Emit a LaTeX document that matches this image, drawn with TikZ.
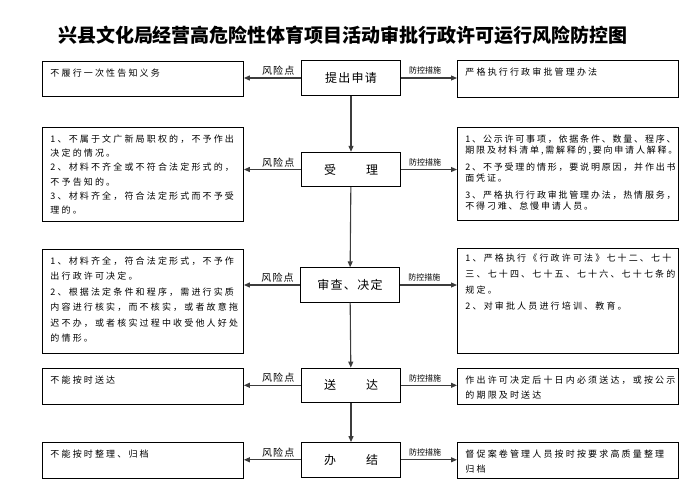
\documentclass[tikz,border=0pt]{standalone}
\usepackage{fontspec}
\usepackage{tikz}
\usetikzlibrary{arrows.meta,positioning}
\newfontfamily\cjk{Noto Sans CJK SC}
\newfontfamily\cjksp[LetterSpace=24]{Noto Sans CJK SC}
\newfontfamily\cjkms[LetterSpace=20]{Noto Sans CJK SC}
\newfontfamily\cjkmid[LetterSpace=11]{Noto Sans CJK SC}
\definecolor{linegris}{RGB}{60,60,60}
\tikzset{
  stepbox/.style={
    rectangle, draw=black, line width=0.9pt, fill=white,
    minimum width=99pt, minimum height=34.5pt, inner sep=0pt,
    font=\cjkmid\fontsize{12}{14}\selectfont
  },
  riskbox/.style={
    rectangle, draw=black, line width=0.9pt, anchor=north west,
    text width=185pt, align=left, inner xsep=8pt, inner ysep=0pt,
    text height=15pt, font=\cjksp\fontsize{9}{15.5}\selectfont
  },
  ctrlbox/.style={riskbox, text width=205pt},
  flowarr/.style={-{Triangle[length=6pt,width=5pt]}, line width=1.1pt, linegris},
  risklbl/.style={above=1pt, pos=0.4, inner sep=1pt,
    font=\cjkmid\fontsize{10}{12}\selectfont, text=black},
  ctrllbl/.style={above=2pt, pos=0.43, inner sep=1pt,
    font=\cjk\fontsize{8}{9}\selectfont, text=black}
}
\begin{document}
\begin{tikzpicture}[x=1pt, y=-1pt]
  \useasboundingbox (0,0) rectangle (694,490);

  \node[font=\cjk\bfseries\fontsize{19}{22}\selectfont] (title) at (343,35)
    {兴县文化局经营高危险性体育项目活动审批行政许可运行风险防控图};

  % Steps
  \node[stepbox] (apply)  at (351,78)    {提出申请};
  \node[stepbox] (accept) at (351,169.5) {受\hspace{30pt}理};
  \node[stepbox] (review) at (350,285)   {审查、决定};
  \node[stepbox] (send)   at (351,385.3) {送\hspace{30pt}达};
  \node[stepbox] (close)  at (351,459.8) {办\hspace{30pt}结};

  % Risk points
  \node[riskbox, text depth=20pt] (rk1) at (42,61) {不履行一次性告知义务};
  \node[riskbox, text depth=79pt, font=\cjksp\fontsize{9}{14.2}\selectfont] (rk2) at (42,127)
    {1、不属于文广新局职权的，不予作出\\决定的情况。\\2、材料不齐全或不符合法定形式的，\\不予告知的。\\3、材料齐全，符合法定形式而不予受\\理的。};
  \node[riskbox, text depth=89pt] (rk3) at (42,249)
    {1、材料齐全，符合法定形式，不予作\\出行政许可决定。\\2、根据法定条件和程序，需进行实质\\内容进行核实，而不核实，或者故意拖\\迟不办，或者核实过程中收受他人好处\\的情形。};
  \node[riskbox, text depth=20.5pt] (rk4) at (42,368) {不能按时送达};
  \node[riskbox, text depth=20.5pt] (rk5) at (42,442) {不能按时整理、归档};

  % Control measures
  \node[ctrlbox, text depth=22pt] (ms1) at (457,60) {严格执行行政审批管理办法};
  \node[ctrlbox, text depth=78pt, font=\cjkms\fontsize{9}{11}\selectfont] (ms2) at (457,127)
    {1、公示许可事项，依据条件、数量、程序、\\期限及材料清单,需解释的,要向申请人解释。\\[6pt]2、不予受理的情形，要说明原因，并作出书\\面凭证。\\[6pt]3、严格执行行政审批管理办法，热情服务，\\不得刁难、怠慢申请人员。};
  \node[ctrlbox, text depth=92pt, text height=13pt, font=\cjksp\fontsize{9}{16}\selectfont] (ms3) at (457,248)
    {1、严格执行《行政许可法》七十二、七十\\三、七十四、七十五、七十六、七十七条的\\规定。\\2、对审批人员进行培训、教育。};
  \node[ctrlbox, text depth=20.5pt] (ms4) at (457,368)
    {作出许可决定后十日内必须送达，或按公示\\的期限及时送达};
  \node[ctrlbox, text depth=20.5pt] (ms5) at (457,442)
    {督促案卷管理人员按时按要求高质量整理\\归档};

  % Flow
  \draw[flowarr] (apply) -- (accept);
  \draw[flowarr] (accept) -- (review);
  \draw[flowarr] (review) -- (send);
  \draw[flowarr] (send) -- (close);

  % Left and right arrows
  \foreach \s/\r/\m in {apply/rk1/ms1, accept/rk2/ms2, review/rk3/ms3, send/rk4/ms4, close/rk5/ms5} {
    \draw[flowarr] (\s.west) -- node[risklbl] {风险点} (\s.west -| \r.east);
    \draw[flowarr] (\s.east) -- node[ctrllbl] {防控措施} (\s.east -| \m.west);
  }
\end{tikzpicture}
\end{document}
